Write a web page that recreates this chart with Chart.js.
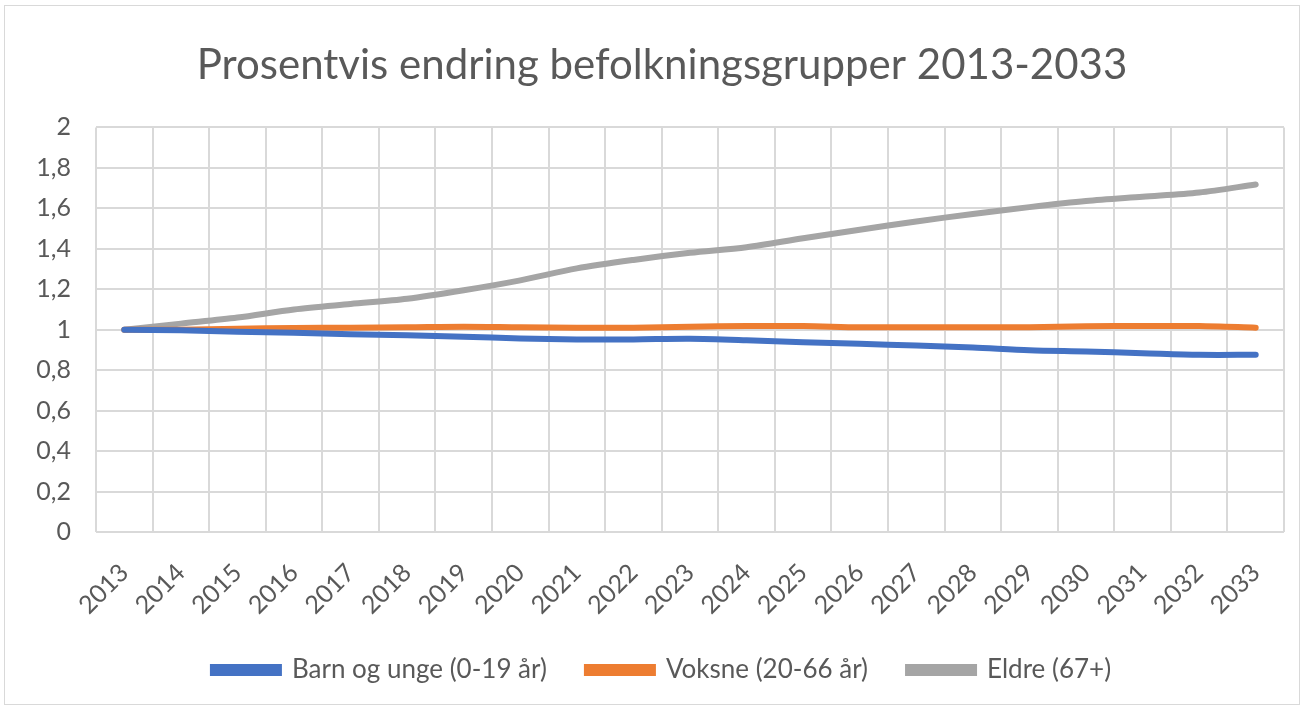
<!DOCTYPE html>
<html>
<head>
<meta charset="utf-8">
<script src="https://cdn.jsdelivr.net/npm/chart.js@4/dist/chart.umd.min.js"></script>
<style>
  html, body { margin: 0; padding: 0; background: #fff; }
  #ramme { position: absolute; left: 4px; top: 5px; width: 1296px; height: 700px; border: 1px solid #d9d9d9; box-sizing: border-box; }
  #wrap { position: absolute; left: 0; top: 0; width: 1307px; height: 711px; }
</style>
</head>
<body>
<div id="ramme"></div>
<div id="wrap"><canvas id="graf"></canvas></div>
<script>
// Data til grafen
var years = ["2013", "2014", "2015", "2016", "2017", "2018", "2019", "2020", "2021", "2022", "2023",
             "2024", "2025", "2026", "2027", "2028", "2029", "2030", "2031", "2032", "2033"];
var barnOgUnge = [1.0, 0.997, 0.99, 0.985, 0.978, 0.972, 0.965, 0.957, 0.952, 0.952, 0.955,
                  0.948, 0.938, 0.93, 0.922, 0.912, 0.898, 0.892, 0.884, 0.876, 0.876];
var voksne = [1.0, 1.0, 1.005, 1.008, 1.01, 1.012, 1.015, 1.012, 1.01, 1.01, 1.015,
              1.018, 1.018, 1.012, 1.012, 1.012, 1.012, 1.017, 1.018, 1.018, 1.01];
var eldre = [1.0, 1.03, 1.06, 1.1, 1.127, 1.153, 1.195, 1.244, 1.303, 1.345, 1.38,
             1.408, 1.452, 1.494, 1.535, 1.572, 1.606, 1.636, 1.657, 1.678, 1.718];
var yTicks = [0, 0.2, 0.4, 0.6, 0.8, 1, 1.2, 1.4, 1.6, 1.8, 2];

var tekstFarge = "#595959";
var gridFarge = "#d9d9d9";
var font = "Lato";

function serie(navn, verdier, farge) {
    return {
        label: navn,
        data: verdier,
        borderColor: farge,
        backgroundColor: farge,
        borderWidth: 6,
        pointRadius: 0,
        tension: 0.3,
        fill: false,
        borderCapStyle: "round"
    };
}

// y-aksens tekst skal ikke klippes av venstre marg
var aksePlass = {
    id: "aksePlass",
    afterLayout: function (chart) { chart.scales.y.left = 0; }
};

var ctx = document.getElementById("graf").getContext("2d");
var graf = new Chart(ctx, {
    type: "line",
    data: {
        labels: years,
        datasets: [
            serie("Barn og unge (0-19 år)", barnOgUnge, "#4472c4"),
            serie("Voksne (20-66 år)", voksne, "#ed7d31"),
            serie("Eldre (67+)", eldre, "#a5a5a5")
        ]
    },
    plugins: [aksePlass],
    options: {
        responsive: true,
        maintainAspectRatio: false,
        animation: false,
        layout: { padding: { left: 40, right: 23, top: 0, bottom: 18 } },
        plugins: {
            title: {
                display: true,
                text: "Prosentvis endring befolkningsgrupper 2013-2033",
                color: tekstFarge,
                font: { family: font, size: 42, weight: "normal" },
                padding: { top: 40, bottom: 37 }
            },
            legend: {
                position: "bottom",
                labels: {
                    color: tekstFarge,
                    font: { family: font, size: 26 },
                    boxWidth: 66,
                    boxHeight: 6,
                    padding: 40
                }
            },
            tooltip: { enabled: false }
        },
        scales: {
            x: {
                offset: true,
                afterFit: function (scale) { scale.height = 85; },
                grid: { offset: true, color: gridFarge, lineWidth: 2, drawTicks: false },
                border: { display: false },
                ticks: {
                    color: tekstFarge,
                    font: { family: font, size: 25 },
                    maxRotation: 45,
                    minRotation: 45,
                    padding: 26,
                    autoSkip: false
                }
            },
            y: {
                min: 0,
                max: 2,
                afterBuildTicks: function (scale) {
                    scale.ticks = yTicks.map(function (v) { return { value: v }; });
                },
                afterFit: function (scale) { scale.width = 56; },
                grid: { color: gridFarge, lineWidth: 2, drawTicks: false },
                border: { display: false },
                ticks: {
                    color: tekstFarge,
                    font: { family: font, size: 25 },
                    padding: 25,
                    callback: function (v) { return String(Number(v.toFixed(1))).replace(".", ","); }
                }
            }
        }
    }
});
</script>
</body>
</html>
